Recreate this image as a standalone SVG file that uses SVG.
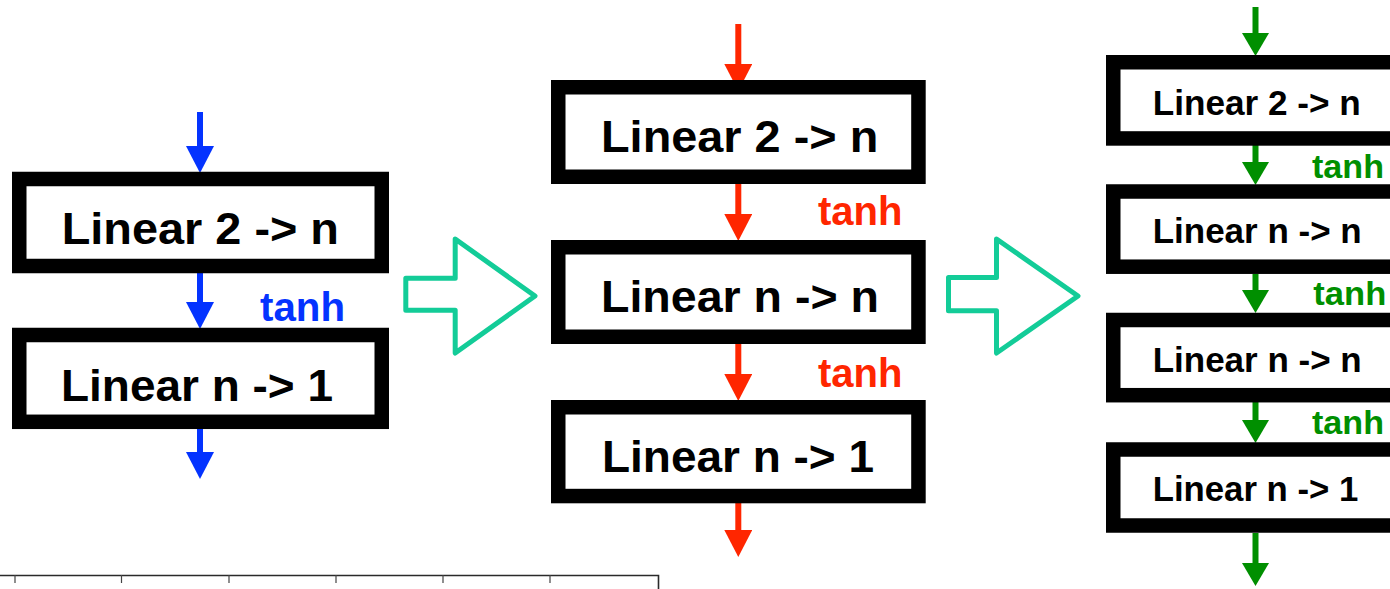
<svg xmlns="http://www.w3.org/2000/svg" width="1390" height="589" viewBox="0 0 1390 589">
<style>
  .box{fill:#ffffff;stroke:#000000;stroke-width:14.5}
  .lbl{font-family:"Liberation Sans",Arial,Helvetica,sans-serif;font-weight:bold;fill:#000000}
  .big{font-size:44px}
  .small{font-size:35.5px}
  .act{font-family:"Liberation Sans",Arial,Helvetica,sans-serif;font-weight:bold}
  .blue{stroke:#0433FF;fill:#0433FF}
  .red{stroke:#FF2600;fill:#FF2600}
  .green{stroke:#008F00;fill:#008F00}
  .ln{stroke-width:6;fill:none}
  .ta{stroke:none}
  .bigarrow{fill:none;stroke:#13CC98;stroke-width:5;stroke-linejoin:round}
  .axis{fill:none;stroke:#2a2a2a;stroke-width:1.6}
  .tick{stroke:#444;stroke-width:1.2}
</style>
<defs>
  <marker id="hb" markerUnits="userSpaceOnUse" viewBox="0 0 27 28" refX="0" refY="14" markerWidth="27" markerHeight="28" orient="auto"><path d="M0,0 L27,14 L0,28 z" fill="#0433FF"/></marker>
  <marker id="hr" markerUnits="userSpaceOnUse" viewBox="0 0 27 28" refX="0" refY="14" markerWidth="27" markerHeight="28" orient="auto"><path d="M0,0 L27,14 L0,28 z" fill="#FF2600"/></marker>
  <marker id="hg" markerUnits="userSpaceOnUse" viewBox="0 0 23 27" refX="0" refY="13.5" markerWidth="23" markerHeight="27" orient="auto"><path d="M0,0 L23,13.5 L0,27 z" fill="#008F00"/></marker>
</defs>
<rect x="0" y="0" width="1390" height="589" fill="#ffffff"/>

<g id="axis">
  <path class="axis" d="M0,575.5 H658.5 V589"/>
  <line class="tick" x1="15" y1="575" x2="15" y2="583"/>
  <line class="tick" x1="121.5" y1="575" x2="121.5" y2="583"/>
  <line class="tick" x1="229" y1="575" x2="229" y2="583"/>
  <line class="tick" x1="336" y1="575" x2="336" y2="583"/>
  <line class="tick" x1="443" y1="575" x2="443" y2="583"/>
  <line class="tick" x1="550" y1="575" x2="550" y2="583"/>
</g>

<g id="connectors">
  <line class="ln blue" x1="200" y1="112" x2="200" y2="146" marker-end="url(#hb)"/>
  <line class="ln blue" x1="200" y1="270" x2="200" y2="302" marker-end="url(#hb)"/>
  <line class="ln blue" x1="200" y1="429" x2="200" y2="452" marker-end="url(#hb)"/>

  <line class="ln red" x1="738.3" y1="24" x2="738.3" y2="64" marker-end="url(#hr)"/>
  <line class="ln red" x1="738.3" y1="184" x2="738.3" y2="214" marker-end="url(#hr)"/>
  <line class="ln red" x1="738.3" y1="344" x2="738.3" y2="374" marker-end="url(#hr)"/>
  <line class="ln red" x1="738.3" y1="503" x2="738.3" y2="530" marker-end="url(#hr)"/>

  <line class="ln green" x1="1255.5" y1="7" x2="1255.5" y2="33" marker-end="url(#hg)"/>
  <line class="ln green" x1="1255.5" y1="145" x2="1255.5" y2="162" marker-end="url(#hg)"/>
  <line class="ln green" x1="1255.5" y1="274" x2="1255.5" y2="290" marker-end="url(#hg)"/>
  <line class="ln green" x1="1255.5" y1="402" x2="1255.5" y2="420" marker-end="url(#hg)"/>
  <line class="ln green" x1="1255.5" y1="533" x2="1255.5" y2="563" marker-end="url(#hg)"/>

  <text class="act ta" x="260" y="321" font-size="40" fill="#0433FF" textLength="85" lengthAdjust="spacingAndGlyphs">tanh</text>
  <text class="act ta" x="818" y="225" font-size="40" fill="#FF2600" textLength="84.5" lengthAdjust="spacingAndGlyphs">tanh</text>
  <text class="act ta" x="818" y="386.7" font-size="40" fill="#FF2600" textLength="84.5" lengthAdjust="spacingAndGlyphs">tanh</text>
  <text class="act ta" x="1312" y="178.3" font-size="34" fill="#008F00" textLength="72" lengthAdjust="spacingAndGlyphs">tanh</text>
  <text class="act ta" x="1313.3" y="305" font-size="34" fill="#008F00" textLength="73" lengthAdjust="spacingAndGlyphs">tanh</text>
  <text class="act ta" x="1312" y="434" font-size="34" fill="#008F00" textLength="72" lengthAdjust="spacingAndGlyphs">tanh</text>

  <polygon class="bigarrow" points="405.8,278.2 455.2,278.2 455.2,239 535,296 455.2,353 455.2,310.2 405.8,310.2"/>
  <polygon class="bigarrow" points="948.5,277.5 996.5,277.5 996.5,239 1078,296 996.5,353 996.5,310.8 948.5,310.8"/>
</g>

<g id="left-linear-2n">
  <rect class="box" x="19.25" y="179" width="362.5" height="87"/>
  <text class="lbl big" x="61.7" y="244.3" textLength="277.3" lengthAdjust="spacingAndGlyphs">Linear 2 -&gt; n</text>
</g>
<g id="left-linear-n1">
  <rect class="box" x="19.25" y="335" width="362.5" height="86.8"/>
  <text class="lbl big" x="61" y="401" textLength="272" lengthAdjust="spacingAndGlyphs">Linear n -&gt; 1</text>
</g>

<g id="mid-linear-2n">
  <rect class="box" x="558.25" y="87.25" width="360.2" height="89.5"/>
  <text class="lbl big" x="601" y="151.7" textLength="277.3" lengthAdjust="spacingAndGlyphs">Linear 2 -&gt; n</text>
</g>
<g id="mid-linear-nn">
  <rect class="box" x="558.25" y="247.25" width="360.2" height="89.5"/>
  <text class="lbl big" x="601" y="311.7" textLength="278" lengthAdjust="spacingAndGlyphs">Linear n -&gt; n</text>
</g>
<g id="mid-linear-n1">
  <rect class="box" x="558.25" y="407.25" width="360.2" height="88.8"/>
  <text class="lbl big" x="602" y="471.7" textLength="272" lengthAdjust="spacingAndGlyphs">Linear n -&gt; 1</text>
</g>

<g id="right-linear-2n">
  <rect class="box" x="1113.25" y="62.25" width="285.5" height="76.2"/>
  <text class="lbl small" x="1152.7" y="115" textLength="208" lengthAdjust="spacingAndGlyphs">Linear 2 -&gt; n</text>
</g>
<g id="right-linear-nn-1">
  <rect class="box" x="1113.25" y="191.5" width="285.5" height="75.2"/>
  <text class="lbl small" x="1152.7" y="242.7" textLength="209" lengthAdjust="spacingAndGlyphs">Linear n -&gt; n</text>
</g>
<g id="right-linear-nn-2">
  <rect class="box" x="1113.25" y="320" width="285.5" height="75.2"/>
  <text class="lbl small" x="1152.7" y="371.7" textLength="209" lengthAdjust="spacingAndGlyphs">Linear n -&gt; n</text>
</g>
<g id="right-linear-n1">
  <rect class="box" x="1113.25" y="449.5" width="285.5" height="76"/>
  <text class="lbl small" x="1152.7" y="500.7" textLength="205.6" lengthAdjust="spacingAndGlyphs">Linear n -&gt; 1</text>
</g>
</svg>
